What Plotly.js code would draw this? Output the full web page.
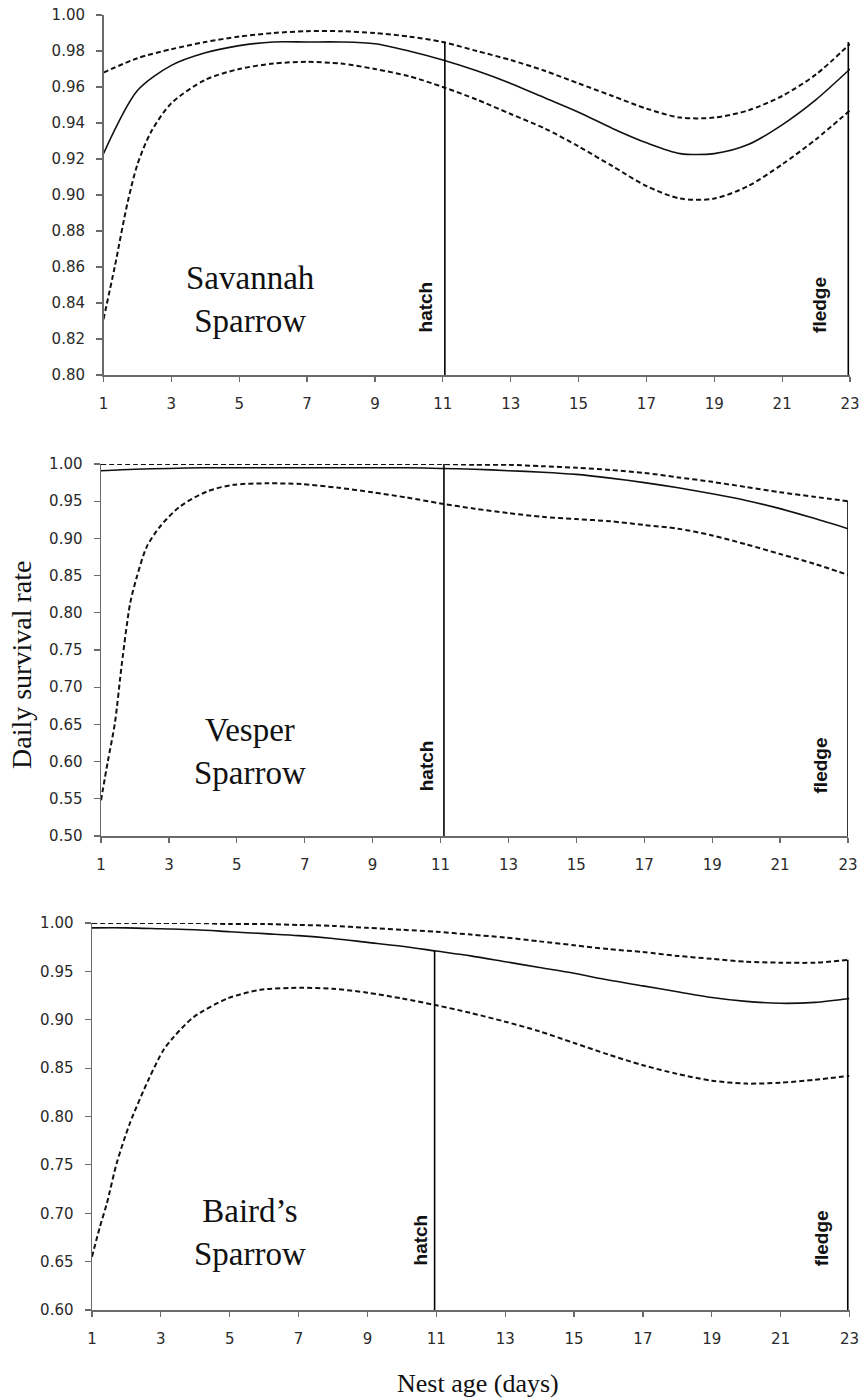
<!DOCTYPE html>
<html>
<head>
<meta charset="utf-8">
<script src="https://cdn.plot.ly/plotly-3.0.1.min.js"></script>
<style>html,body{margin:0;padding:0;background:#fff;}</style>
</head>
<body>
<div id="chart" style="width:864px;height:1400px;"></div>
<script>
// ---------- Data ----------
const xTicks = [1,3,5,7,9,11,13,15,17,19,21,23];
const dayInt = [1,2,3,4,5,6,7,8,9,10,11,12,13,14,15,16,17,18,19,20,21,22,23];

// Savannah Sparrow
const savMean  = [0.923,0.958,0.972,0.979,0.983,0.985,0.985,0.985,0.984,0.980,0.975,0.969,0.962,0.954,0.946,0.937,0.929,0.923,0.923,0.928,0.939,0.953,0.970];
const savUpper = [0.968,0.976,0.981,0.985,0.988,0.990,0.991,0.991,0.990,0.988,0.985,0.980,0.975,0.969,0.962,0.955,0.948,0.943,0.943,0.947,0.955,0.967,0.984];
const savLowerDays = [1,1.33,1.7,2,2.4,3,4,5,6,7,8,9,10,11,12,13,14,15,16,17,18,19,20,21,22,23];
const savLower = [0.831,0.860,0.895,0.917,0.935,0.951,0.964,0.970,0.973,0.974,0.973,0.970,0.966,0.960,0.953,0.945,0.937,0.927,0.916,0.905,0.898,0.898,0.905,0.917,0.931,0.947];

// Vesper Sparrow
const vesMean  = [0.991,0.993,0.994,0.995,0.995,0.995,0.995,0.995,0.995,0.995,0.994,0.993,0.991,0.989,0.986,0.981,0.975,0.968,0.960,0.951,0.940,0.927,0.913];
const vesUpper = [1.000,1.000,1.000,1.000,1.000,1.000,1.000,1.000,1.000,1.000,1.000,0.999,0.999,0.997,0.995,0.992,0.988,0.982,0.976,0.969,0.962,0.956,0.950];
const vesLowerDays = [1,1.2,1.41,1.61,1.86,2.06,2.35,2.74,3.33,4.12,4.9,5.9,6.9,8,9,10,11,12,13,14,15,16,17,18,19,20,21,22,23];
const vesLower = [0.548,0.600,0.652,0.730,0.813,0.849,0.889,0.916,0.943,0.963,0.972,0.974,0.973,0.968,0.962,0.955,0.947,0.940,0.934,0.929,0.926,0.923,0.918,0.913,0.904,0.892,0.879,0.866,0.851];

// Baird's Sparrow
const baiMean  = [0.995,0.995,0.994,0.993,0.991,0.989,0.987,0.984,0.980,0.976,0.971,0.966,0.960,0.954,0.948,0.941,0.935,0.929,0.923,0.919,0.917,0.918,0.922];
const baiUpper = [1.000,1.000,1.000,1.000,0.999,0.999,0.998,0.997,0.995,0.993,0.991,0.988,0.985,0.981,0.977,0.973,0.970,0.966,0.963,0.960,0.959,0.959,0.962];
const baiLowerDays = [1,1.23,1.43,1.72,2.1,2.64,3.08,3.37,3.96,4.94,5.9,7.07,8,9,10,11,12,13,14,15,16,17,18,19,20,21,22,23];
const baiLower = [0.655,0.686,0.710,0.752,0.793,0.838,0.869,0.882,0.903,0.922,0.931,0.933,0.932,0.928,0.922,0.915,0.907,0.898,0.888,0.876,0.864,0.853,0.844,0.837,0.834,0.835,0.838,0.842];

// Event markers (hatch / fledge) per panel: x position and vertical extent
const hatchX  = [11.06, 11.1, 10.95];
const fledgeX = [22.95, 23.0, 22.95];
const yMin    = [0.80, 0.50, 0.60];
const hatchTop  = [0.985, 1.000, 0.971];
const fledgeTop = [0.985, 0.950, 0.962];

const speciesLabels = ["Savannah<br>Sparrow", "Vesper<br>Sparrow", "Baird’s<br>Sparrow"];
const yTitle = "Daily survival rate";
const xTitle = "Nest age (days)";

// ---------- Build ----------
const panels = [
  {mean: savMean, upper: savUpper, lowerDays: savLowerDays, lower: savLower},
  {mean: vesMean, upper: vesUpper, lowerDays: vesLowerDays, lower: vesLower},
  {mean: baiMean, upper: baiUpper, lowerDays: baiLowerDays, lower: baiLower}
];
const dashLine = {color: '#111', width: 2, dash: '5px,3px', shape: 'spline', smoothing: 0.8};
const solidLine = {color: '#111', width: 1.6, shape: 'spline', smoothing: 0.8};
const traces = [];
panels.forEach((p, i) => {
  const xa = i === 0 ? 'x' : 'x' + (i+1);
  const ya = i === 0 ? 'y' : 'y' + (i+1);
  traces.push({x: dayInt, y: p.upper, xaxis: xa, yaxis: ya, mode: 'lines', line: dashLine, hoverinfo: 'skip'});
  traces.push({x: p.lowerDays, y: p.lower, xaxis: xa, yaxis: ya, mode: 'lines', line: dashLine, hoverinfo: 'skip'});
  traces.push({x: dayInt, y: p.mean, xaxis: xa, yaxis: ya, mode: 'lines', line: solidLine, hoverinfo: 'skip'});
  traces.push({x: [hatchX[i], hatchX[i]], y: [yMin[i], hatchTop[i]], xaxis: xa, yaxis: ya, mode: 'lines', line: {color: '#000', width: 1.6}, hoverinfo: 'skip'});
  traces.push({x: [fledgeX[i], fledgeX[i]], y: [yMin[i], fledgeTop[i]], xaxis: xa, yaxis: ya, mode: 'lines', line: {color: '#000', width: 1.6}, hoverinfo: 'skip'});
});

const W = 864, H = 1400;
function xd(l, r) { return [l / W, r / W]; }
function yd(t, b) { return [1 - b / H, 1 - t / H]; }

const tickFont = {family: 'DejaVu Sans, Verdana, sans-serif', size: 15, color: '#2a2a2a'};
function xAxis(dom, anchor) {
  return {domain: dom, anchor: anchor, range: [1, 23], tickvals: xTicks, ticktext: xTicks.map(String),
    showgrid: false, zeroline: false, showline: true, linecolor: '#6a6a6a', linewidth: 1.5,
    ticks: 'outside', ticklen: 5, tickwidth: 1.2, tickcolor: '#6a6a6a', tickfont: tickFont, ticklabelstandoff: 9};
}
function yAxis(dom, anchor, range, dtick) {
  return {domain: dom, anchor: anchor, range: range, tick0: range[0], dtick: dtick, tickformat: '.2f',
    showgrid: false, zeroline: false, showline: true, linecolor: '#6a6a6a', linewidth: 1.5,
    ticks: 'outside', ticklen: 6, tickwidth: 1.2, tickcolor: '#6a6a6a', tickfont: tickFont, ticklabelstandoff: 8};
}

const serif = 'Liberation Serif, Times New Roman, serif';
const markFont = {family: 'Liberation Sans Narrow, Liberation Sans, Arial, sans-serif', size: 19, color: '#111', weight: 'bold'};

const annLayout = [
  {ax: 'x', ay: 'y', lx: 5.32, ly: 0.842, hx: 10.50, hy: 0.838, fx: 22.12, fy: 0.839},
  {ax: 'x2', ay: 'y2', lx: 5.39, ly: 0.614, hx: 10.57, hy: 0.595, fx: 22.18, fy: 0.595},
  {ax: 'x3', ay: 'y3', lx: 5.59, ly: 0.680, hx: 10.53, hy: 0.672, fx: 22.17, fy: 0.674}
];
const annotations = [];
annLayout.forEach((a, i) => {
  annotations.push({xref: a.ax, yref: a.ay, x: a.lx, y: a.ly, xanchor: 'center', yanchor: 'middle', text: speciesLabels[i], showarrow: false,
    font: {family: serif, size: 33, color: '#111'}, align: 'center'});
  annotations.push({xref: a.ax, yref: a.ay, x: a.hx, y: a.hy, xanchor: 'center', yanchor: 'middle', text: 'hatch', textangle: -90, showarrow: false, font: markFont});
  annotations.push({xref: a.ax, yref: a.ay, x: a.fx, y: a.fy, xanchor: 'center', yanchor: 'middle', text: 'fledge', textangle: -90, showarrow: false, font: markFont});
});
annotations.push({xref: 'paper', yref: 'paper', x: 21 / W, y: 1 - 665 / H, xanchor: 'center', yanchor: 'middle', text: yTitle, textangle: -90, showarrow: false,
  font: {family: serif, size: 28, color: '#111'}});
annotations.push({xref: 'paper', yref: 'paper', x: 478 / W, y: 1 - 1383 / H, xanchor: 'center', yanchor: 'middle', text: xTitle, showarrow: false,
  font: {family: serif, size: 26, color: '#111'}});

const layout = {
  width: W, height: H, margin: {l: 0, r: 0, t: 0, b: 0},
  paper_bgcolor: '#fff', plot_bgcolor: '#fff', showlegend: false,
  xaxis: xAxis(xd(103.5, 850), 'y'),
  yaxis: yAxis(yd(15, 375), 'x', [0.80, 1.00], 0.02),
  xaxis2: xAxis(xd(101, 848), 'y2'),
  yaxis2: yAxis(yd(464, 836), 'x2', [0.50, 1.00], 0.05),
  xaxis3: xAxis(xd(92, 849.5), 'y3'),
  yaxis3: yAxis(yd(923, 1310), 'x3', [0.60, 1.00], 0.05),
  annotations: annotations
};

Plotly.newPlot('chart', traces, layout, {staticPlot: true, displayModeBar: false});
</script>
</body>
</html>
